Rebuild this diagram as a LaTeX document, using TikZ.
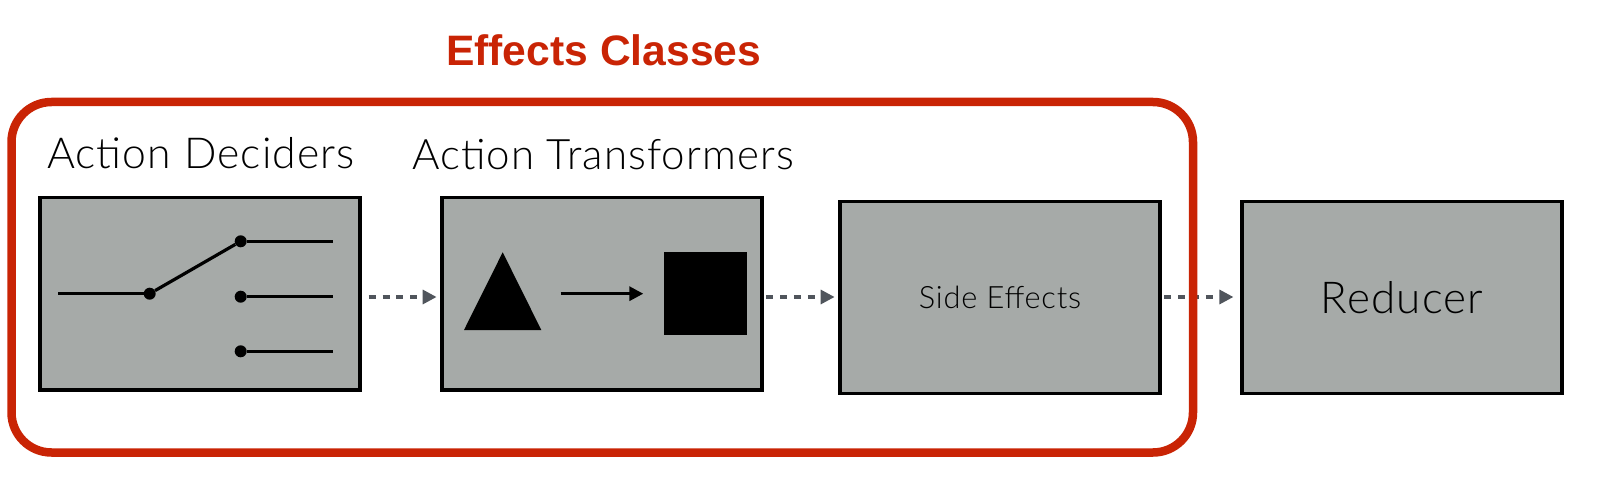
\documentclass[tikz,border=0pt]{standalone}
\usepackage{fontspec}
\setmainfont{Liberation Sans}
\newfontfamily\lightfont[LetterSpace=2.6]{Lato Light}
\usetikzlibrary{arrows.meta}

\definecolor{panelgray}{HTML}{A6AAA8}
\definecolor{effectsred}{HTML}{C92405}
\definecolor{flowgray}{HTML}{50555C}

\begin{document}
\begin{tikzpicture}[
    x=1pt,
    y=-1pt,
    panel/.style={
        draw=black,fill=panelgray,line width=3.2pt,
        minimum width=320pt,inner sep=0pt,
        font=\lightfont\fontsize{44}{48}\selectfont
    },
    heading/.style={
        anchor=base west,inner sep=0pt,font=\lightfont\fontsize{42}{46}\selectfont
    },
    dot/.style={
        circle,fill=black,inner sep=0pt,minimum size=12pt
    },
    wire/.style={
        line width=3.2pt
    },
    every edge/.append style={
        draw=flowgray,line width=3.2pt,
        dash pattern=on 7pt off 6.9pt,
        -{Triangle[length=14pt,width=14pt]}
    }
]
    \useasboundingbox (0,0) rectangle (1600,486);

    \coordinate (flow) at (0,297);

    \node (deciders) [panel,minimum height=192.5pt] at (200,293.75) {};
    \node (transformers) [panel,minimum height=192.5pt] at (602,293.75) {};
    \node (sidefx) [panel,minimum height=192pt,font=\lightfont\fontsize{30.8}{34}\selectfont] at (1000,297.5) {Side Effects};
    \node (reducer) [panel,minimum height=192pt] at (1402,297.5) {Reducer};

    \draw (deciders.east |- flow)
        edge [shorten <=7pt,shorten >=3.8pt]
        (transformers.west |- flow);

    \draw (transformers.east |- flow)
        edge [shorten <=2.5pt,shorten >=3.8pt]
        (sidefx.west |- flow);

    \draw (sidefx.east |- flow)
        edge [shorten <=2.5pt,shorten >=7pt]
        (reducer.west |- flow);

    \node (effects) [
        draw=effectsred,line width=8.5pt,rounded corners=40pt,
        minimum width=1181.5pt,minimum height=350.5pt,inner sep=0pt
    ] at (602.25,277.25) {};

    \node (title) [
        anchor=base west,inner sep=0pt,text=effectsred,
        font=\bfseries\fontsize{42.6}{46}\selectfont
    ] at (446,65.7) {Effects Classes};
    \node (decidelabel) [heading,font=\lightfont\fontsize{42.7}{46}\selectfont] at (47,169) {Action Deciders};
    \node (transformlabel) [heading] at (412,170) {Action Transformers};

    % switch
    \coordinate (feed) at (58,293.7);
    \node (pivot) [dot] at (149.7,293.7) {};
    \node (upper) [dot] at (240.7,241.3) {};
    \node (middle) [dot] at (240.7,296.7) {};
    \node (lower) [dot] at (240.7,351.3) {};
    \coordinate (upperend) at (333,241.3);
    \coordinate (middleend) at (333,296.7);
    \coordinate (lowerend) at (333,351.3);

    \draw [wire] (feed) -- (pivot);
    \draw [wire] (pivot) -- (upper);
    \draw [wire] (upper) -- (upperend);
    \draw [wire] (middle) -- (middleend);
    \draw [wire] (lower) -- (lowerend);

    % triangle to square
    \fill (502.7,252.3) -- (541.3,330) -- (464,330) -- cycle;
    \node (square) [fill=black,inner sep=0pt,minimum size=83pt] at (705,293.7) {};
    \coordinate (source) at (560.7,293.7);
    \coordinate (target) at (643.3,293.7);

    \draw [wire,-{Triangle[length=14pt,width=14pt]}] (source) -- (target);

\end{tikzpicture}
\end{document}
